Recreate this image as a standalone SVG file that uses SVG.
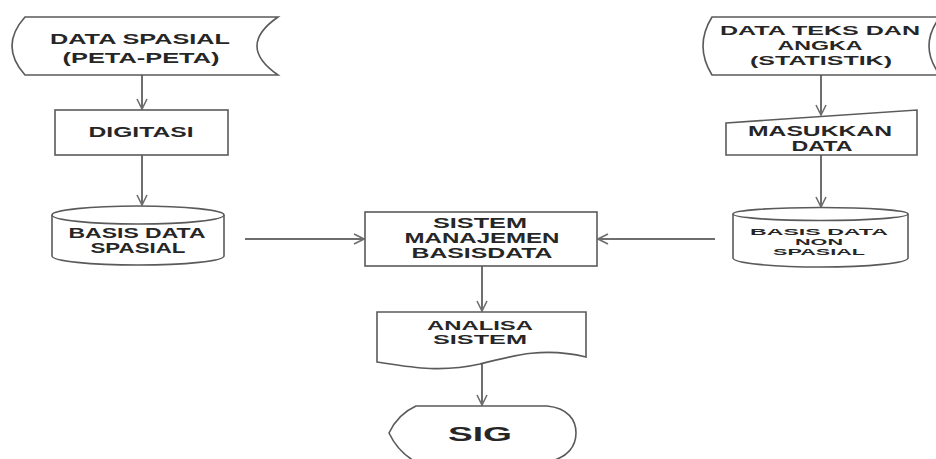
<svg xmlns="http://www.w3.org/2000/svg" width="936" height="459" viewBox="0 0 936 459">
  <style>
    .shape { fill: #ffffff; stroke: #5a5a5a; stroke-width: 1.6; }
    .line { fill: none; stroke: #6e6e6e; stroke-width: 2; }
    .t { font-family: "Liberation Sans", Arial, sans-serif; font-weight: bold; font-size: 14px; fill: #262626; text-anchor: middle; }
    .m { font-size: 12.5px; }
    .s { font-size: 9px; }
    .big { font-size: 21px; }
  </style>
  <defs>
    <marker id="arrow" viewBox="0 0 12 12" refX="11" refY="6" markerWidth="12" markerHeight="12" markerUnits="userSpaceOnUse" orient="auto">
      <path d="M1,1 L11,6 L1,11" fill="none" stroke="#6e6e6e" stroke-width="1.6"/>
    </marker>
  </defs>

  <rect width="936" height="459" fill="#ffffff"/>

  <g id="connectors">
    <line class="line" x1="142" y1="75" x2="142" y2="109" marker-end="url(#arrow)"/>
    <line class="line" x1="142" y1="155" x2="142" y2="205" marker-end="url(#arrow)"/>
    <line class="line" x1="245" y1="239" x2="364" y2="239" marker-end="url(#arrow)"/>
    <line class="line" x1="715" y1="239" x2="598" y2="239" marker-end="url(#arrow)"/>
    <line class="line" x1="821" y1="75" x2="821" y2="115" marker-end="url(#arrow)"/>
    <line class="line" x1="821" y1="155" x2="821" y2="207" marker-end="url(#arrow)"/>
    <line class="line" x1="482" y1="266" x2="482" y2="311" marker-end="url(#arrow)"/>
    <line class="line" x1="482" y1="364" x2="482" y2="405" marker-end="url(#arrow)"/>
  </g>

  <g id="data-spasial">
    <path class="shape" d="M25,17 H278 Q236,46 278,75 H25 Q-1,46 25,17 Z"/>
    <text class="t" x="140" y="44" textLength="180" lengthAdjust="spacingAndGlyphs">DATA SPASIAL</text>
    <text class="t" x="141" y="63" textLength="157" lengthAdjust="spacingAndGlyphs">(PETA-PETA)</text>
  </g>

  <g id="digitasi">
    <rect class="shape" x="55" y="110" width="173" height="45"/>
    <text class="t" x="141" y="137" textLength="105" lengthAdjust="spacingAndGlyphs">DIGITASI</text>
  </g>

  <g id="basis-data-spasial">
    <path class="shape" d="M52,215 V256 A86,9 0 0 0 224,256 V215"/>
    <ellipse class="shape" cx="138" cy="215" rx="86" ry="9"/>
    <text class="t" x="137" y="238" textLength="137" lengthAdjust="spacingAndGlyphs">BASIS DATA</text>
    <text class="t" x="138" y="253" textLength="95" lengthAdjust="spacingAndGlyphs">SPASIAL</text>
  </g>

  <g id="data-teks">
    <path class="shape" d="M712,17 H940 Q918,46 940,75 H712 Q694,46 712,17 Z"/>
    <text class="t m" x="820" y="35" textLength="200" lengthAdjust="spacingAndGlyphs">DATA TEKS DAN</text>
    <text class="t m" x="820" y="50" textLength="85" lengthAdjust="spacingAndGlyphs">ANGKA</text>
    <text class="t m" x="821" y="65" textLength="142" lengthAdjust="spacingAndGlyphs">(STATISTIK)</text>
  </g>

  <g id="masukkan-data">
    <polygon class="shape" points="726,123 917,110 917,155 726,155"/>
    <text class="t" x="820" y="136" textLength="144" lengthAdjust="spacingAndGlyphs">MASUKKAN</text>
    <text class="t" x="822" y="151" textLength="61" lengthAdjust="spacingAndGlyphs">DATA</text>
  </g>

  <g id="basis-data-non-spasial">
    <path class="shape" d="M733,214 V258 A87.5,9 0 0 0 908,258 V214"/>
    <ellipse class="shape" cx="820.5" cy="214" rx="87.5" ry="6.5"/>
    <text class="t s" x="819" y="235" textLength="138" lengthAdjust="spacingAndGlyphs">BASIS DATA</text>
    <text class="t s" x="819" y="245" textLength="48" lengthAdjust="spacingAndGlyphs">NON</text>
    <text class="t s" x="819" y="255" textLength="92" lengthAdjust="spacingAndGlyphs">SPASIAL</text>
  </g>

  <g id="sistem-manajemen-basisdata">
    <rect class="shape" x="365" y="212" width="232" height="54"/>
    <text class="t" x="480" y="228" textLength="94" lengthAdjust="spacingAndGlyphs">SISTEM</text>
    <text class="t" x="482" y="243" textLength="155" lengthAdjust="spacingAndGlyphs">MANAJEMEN</text>
    <text class="t" x="482" y="258" textLength="141" lengthAdjust="spacingAndGlyphs">BASISDATA</text>
  </g>

  <g id="analisa-sistem">
    <path class="shape" d="M377,312 H586 V357 C545,347 515,355 480,364 C440,373 410,367 377,362 Z"/>
    <text class="t m" x="480" y="330" textLength="106" lengthAdjust="spacingAndGlyphs">ANALISA</text>
    <text class="t m" x="480" y="344" textLength="94" lengthAdjust="spacingAndGlyphs">SISTEM</text>
  </g>

  <g id="sig">
    <path class="shape" d="M389,433 Q398,414 416,406 H547 C568,408 576,420 576,433 C576,446 568,458 547,462 H416 Q398,452 389,433 Z"/>
    <text class="t big" x="480" y="441" textLength="64" lengthAdjust="spacingAndGlyphs">SIG</text>
  </g>
</svg>
